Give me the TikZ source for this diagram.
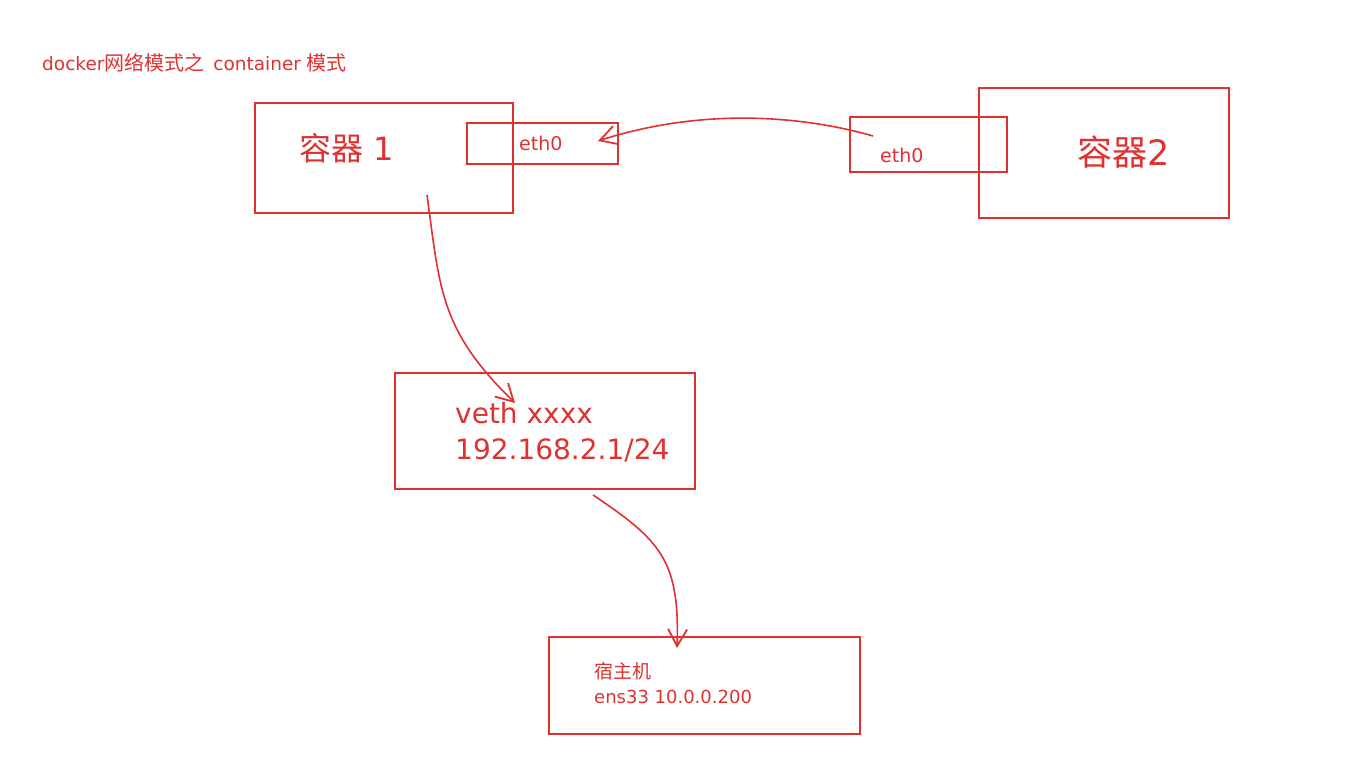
\documentclass[tikz,border=0pt]{standalone}
\usepackage{fontspec}
\setmainfont{DejaVu Sans}
\newfontfamily\cjk{Noto Sans CJK SC}
\usetikzlibrary{arrows.meta}
\definecolor{exred}{HTML}{E03131}
\begin{document}
\begin{tikzpicture}[x=1pt,y=-1pt,
  box/.style={draw=exred,line width=1.6pt},
  lbl/.style={text=exred,inner sep=0pt,anchor=west},
  conn/.style={draw=exred,line width=1.6pt,-{Straight Barb[length=17pt,width=19pt,line width=1.8pt]}}]
\useasboundingbox[fill=white] (0,0) rectangle (1350,758);
% title
\node[lbl,font=\fontsize{18.5}{20}\selectfont] (title) at (42,63) {docker{\cjk\fontsize{20}{20}\selectfont 网络模式之}\hspace{3pt} container {\cjk\fontsize{20}{20}\selectfont 模式}};
% container 1
\draw[box] (255,103) rectangle (513,213);
\node[lbl,font=\fontsize{32}{36}\selectfont] (c1) at (299,148) {{\cjk 容器} 1};
\draw[box] (467,123) rectangle (618,164);
\node[lbl,font=\fontsize{19}{20}\selectfont] (eth1) at (519,143) {eth0};
% container 2
\draw[box] (979,88) rectangle (1229,218);
\node[lbl,font=\fontsize{35}{38}\selectfont] (c2) at (1077,152) {{\cjk 容器}2};
\draw[box] (850,117) rectangle (1007,172);
\node[lbl,font=\fontsize{19}{20}\selectfont] (eth2) at (880,155) {eth0};
% veth
\draw[box] (395,373) rectangle (695,489);
\node[lbl,font=\fontsize{28}{36}\selectfont,align=left] (veth) at (455,432) {veth xxxx\\192.168.2.1/24};
% host
\draw[box] (549,637) rectangle (860,734);
\node[lbl,font=\fontsize{18}{25}\selectfont,align=left] (host) at (594,683) {{\cjk\fontsize{19}{25}\selectfont 宿主机}\\ens33 10.0.0.200};
% connector anchors
\coordinate (a1s) at (873,136);
\coordinate (a1e) at (598,141);
\coordinate (a2s) at (427,195);
\coordinate (a2e) at (515,403);
\coordinate (a3s) at (593,495);
\coordinate (a3e) at (677,648);
\draw[conn] (a1s) .. controls (800,115) and (700,108) .. (a1e);
\draw[conn] (a2s) .. controls (440,290) and (440,330) .. (a2e);
\draw[conn] (a3s) .. controls (660,540) and (680,560) .. (a3e);
\end{tikzpicture}
\end{document}
